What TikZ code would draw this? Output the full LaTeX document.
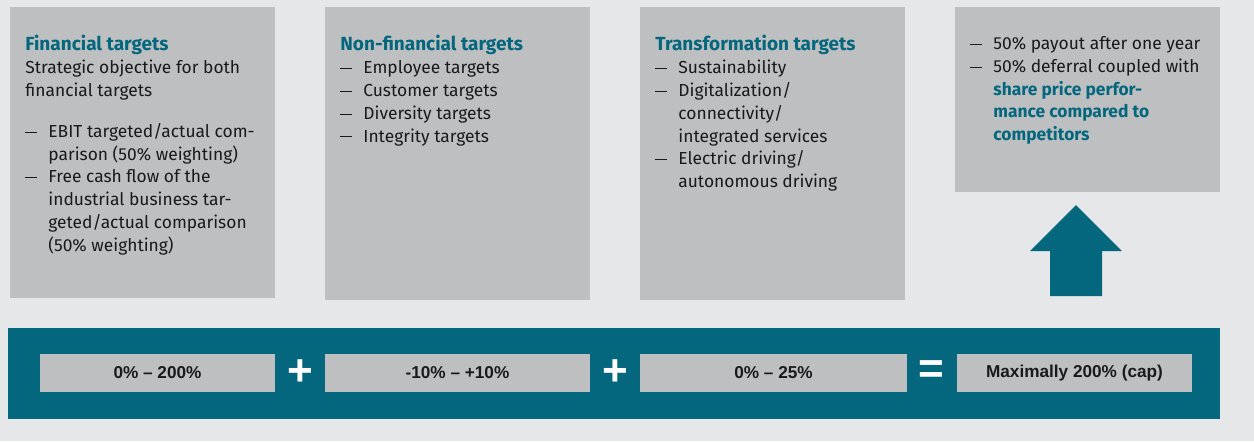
\documentclass[tikz,border=0pt]{standalone}
\usepackage{fontspec}
\setmainfont{Fira Sans}
\newfontfamily\numfont{Liberation Sans}
\usetikzlibrary{positioning}

\definecolor{petrol}{HTML}{04677D}
\definecolor{boxgray}{HTML}{BEBFC1}
\definecolor{bggray}{HTML}{E6E7E9}
\definecolor{ink}{HTML}{1A1A1A}

% dash bullet with hanging indent
\newcommand{\dashitem}[1]{\makebox[11.5pt][l]{\rule[0.27em]{6pt}{0.45pt}}#1}
\newcommand{\contline}[1]{\hspace*{11.5pt}#1}
\newcommand{\hl}[1]{\textcolor{petrol}{\bfseries #1}}
\newcommand{\headline}[1]{\hl{\fontsize{9.5}{11.4}\selectfont #1}}

\begin{document}
\begin{tikzpicture}[x=0.5pt,y=-0.5pt]
  \tikzset{
    panel/.style={fill=boxgray, anchor=north west, inner sep=0pt,
        minimum width=132.5pt},
    txt/.style={anchor=north west, inner sep=0pt, align=left, text=ink,
        font=\fontsize{8.7}{11.4}\selectfont},
    valbox/.style={fill=boxgray, inner sep=0pt, minimum height=19pt,
        font=\numfont\bfseries\fontsize{8.6}{9}\selectfont, text=ink},
    opsign/.style={inner sep=0pt, text=white,
        font=\numfont\bfseries\fontsize{22}{22}\selectfont}
  }

  % background and page size
  \fill[bggray] (0,0) rectangle (1254,441);
  \useasboundingbox (0,0) rectangle (1254,441);

  % upper row of target panels
  \node[panel, minimum height=145.5pt] (fin)   at (10,7)  {};
  \node[panel, minimum height=146.5pt] (nonfin) at (325,7) {};
  \node[panel, minimum height=146.5pt] (trans) at (640,7)  {};
  \node[panel, minimum height=92.5pt]  (pay)   at (955,7)  {};

  \node[txt] (fintxt) at (25,35) {%
    \headline{Financial targets}\\
    Strategic objective for both\\
    financial targets\\[9pt]
    \dashitem{EBIT targeted/actual com-}\\
    \contline{parison (50\% weighting)}\\
    \dashitem{Free cash flow of the}\\
    \contline{industrial business tar-}\\
    \contline{geted/actual comparison}\\
    \contline{(50\% weighting)}};
  \node[txt] (nonfintxt) at (340,35) {%
    \headline{Non-financial targets}\\
    \dashitem{Employee targets}\\
    \dashitem{Customer targets}\\
    \dashitem{Diversity targets}\\
    \dashitem{Integrity targets}};
  \node[txt] (transtxt) at (655,35) {%
    \headline{Transformation targets}\\
    \dashitem{Sustainability}\\
    \dashitem{Digitalization/}\\
    \contline{connectivity/}\\
    \contline{integrated services}\\
    \dashitem{Electric driving/}\\
    \contline{autonomous driving}};
  \node[txt] (paytxt) at (970,36) {%
    \dashitem{50\% payout after one year}\\
    \dashitem{50\% deferral coupled with}\\
    \contline{\hl{share price perfor-}}\\
    \contline{\hl{mance compared to}}\\
    \contline{\hl{competitors}}};

  % block arrow up to the payout panel
  \fill[petrol] (1076,205) -- (1122,251) -- (1102,251) -- (1102,296)
      -- (1050,296) -- (1050,251) -- (1030,251) -- cycle;

  % lower band with the formula
  \node[panel, fill=petrol, minimum width=606pt, minimum height=45.5pt]
      (band) at (8,328) {};
  \node[valbox, minimum width=117.5pt] (fval) at (157.5,373) {0\% \textendash{} 200\%};
  \node[valbox, minimum width=132.5pt] (nval) at (457.5,373) {-10\% \textendash{} +10\%};
  \node[valbox, minimum width=133.5pt] (tval) at (773.5,373) {0\% \textendash{} 25\%};
  \node[valbox, minimum width=117.5pt] (cap)  at (1074.5,373) {Maximally 200\% (cap)};
  \node[opsign] (plusa) at (300,373) {+};
  \node[opsign] (plusb) at (615,373) {+};
  \node[opsign] (equal) at (931,372) {=};
\end{tikzpicture}
\end{document}
